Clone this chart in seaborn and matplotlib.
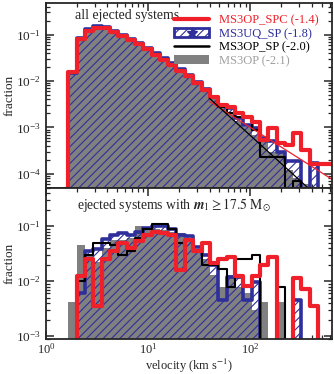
import numpy as np
import pandas as pd
import matplotlib
matplotlib.use("Agg")
import matplotlib.pyplot as plt
import seaborn as sns
from matplotlib.lines import Line2D
from matplotlib.patches import Patch
from matplotlib.legend_handler import HandlerTuple

# ---------------- data ----------------
# histogram bin edges in log10(velocity / km s^-1)
log_v_edges = [0.136, 0.218, 0.299, 0.381, 0.462, 0.544, 0.626, 0.707, 0.789, 0.870,
               0.952, 1.034, 1.115, 1.197, 1.278, 1.360, 1.442, 1.523, 1.605, 1.686,
               1.768, 1.850, 1.931, 2.013, 2.094, 2.176, 2.258, 2.339, 2.421, 2.502,
               2.584, 2.666, 2.747, 2.829]

# top panel: all ejected systems (fraction per bin)
all_ms3op_spc = [0, 0.016, 0.080, 0.122, 0.140, 0.140, 0.115, 0.092, 0.076, 0.062, 0.048,
                 0.037, 0.029, 0.022, 0.0168, 0.0125, 0.0090, 0.0064, 0.0046, 0.0030, 0.0028,
                 0.0020, 0.0017, 0.0013, 0.00054, 0.00095, 0.00045, 0.00042, 0.00075, 0.00033,
                 0.00016, 0.00016, 0.00016]
all_ms3uq_sp = [0, 0.015, 0.085, 0.130, 0.150, 0.148, 0.122, 0.098, 0.082, 0.066, 0.052,
                0.040, 0.031, 0.024, 0.0180, 0.0135, 0.0097, 0.0068, 0.0046, 0.0030, 0.0026,
                0.0016, 0.0011, 0.00095, 0.00060, 0.00050, 0.00030, 0.00019, 0.00019, 0,
                0.00017, 0, 0]
all_ms3op_sp = [0, 0.015, 0.078, 0.120, 0.138, 0.138, 0.115, 0.092, 0.076, 0.062, 0.049,
                0.038, 0.029, 0.022, 0.0165, 0.0122, 0.0088, 0.0062, 0.0043, 0.0028, 0.0020,
                0.0017, 0.0016, 0.0009, 0.00023, 0.00023, 0.00023, 0, 0.00007, 0,
                0, 0, 0]
all_ms3op = [0, 0.015, 0.078, 0.120, 0.138, 0.138, 0.115, 0.092, 0.076, 0.062, 0.049,
             0.038, 0.029, 0.022, 0.0165, 0.0122, 0.0088, 0.0062, 0.0042, 0.0027, 0.0019,
             0.0014, 0.0010, 0.0007, 0.0005, 0.00030, 0.00028, 0.00012, 0.00008, 0.00006,
             0, 0, 0]

# bottom panel: ejected systems with m1 >= 17.5 Msun
big_ms3op_spc = [0, 0, 0.0123, 0.025, 0.0035, 0.025, 0.035, 0.050, 0.040, 0.053, 0.070,
                 0.080, 0.076, 0.070, 0.016, 0.057, 0.035, 0.050, 0.021, 0.025, 0.027,
                 0.0123, 0.0081, 0.0123, 0.020, 0.028, 0, 0, 0.0115, 0.0071, 0.0035, 0, 0]
big_ms3uq_sp = [0, 0, 0.006, 0.035, 0.038, 0.058, 0.070, 0.075, 0.068, 0.080, 0.092,
                0.100, 0.100, 0.088, 0.070, 0.065, 0.042, 0.030, 0.020, 0.0045, 0.012,
                0.012, 0.0045, 0.0095, 0, 0, 0, 0, 0.0045, 0, 0, 0, 0]
big_ms3op_sp = [0, 0, 0.010, 0.030, 0.050, 0.050, 0.045, 0.030, 0.035, 0.060, 0.090,
                0.110, 0.110, 0.090, 0.050, 0.055, 0.035, 0.020, 0.020, 0.017, 0.008,
                0.025, 0.025, 0.030, 0, 0, 0.008, 0, 0, 0, 0, 0, 0]
big_ms3op = [0, 0.0042, 0.045, 0.030, 0.022, 0.040, 0.055, 0.055, 0.060, 0.100, 0.090,
             0.090, 0.085, 0.080, 0.075, 0.055, 0.035, 0.025, 0.013, 0.008, 0.013,
             0.008, 0.006, 0.003, 0.0042, 0, 0.0042, 0, 0, 0, 0, 0, 0]

# power-law fits of the high-velocity tail: slope and anchor (log v, log fraction)
fit_labels = ["MS3OP_SPC", "MS3UQ_SP", "MS3OP_SP", "MS3OP"]
fit_slopes = [-1.4, -1.8, -2.0, -2.1]
fit_anchor_logv = [1.93, None, 1.804, None]
fit_anchor_logf = [-2.90, None, -2.78, None]
fit_logv_range = [1.6, 2.9]

legend_labels = [f"{n} ({s:.1f})" for n, s in zip(fit_labels, fit_slopes)]

# ---------------- style ----------------
sns.set_style("ticks")
plt.rcParams["font.family"] = ["Liberation Serif", "DejaVu Serif"]
plt.rcParams["mathtext.fontset"] = "stix"
plt.rcParams["hatch.linewidth"] = 0.8
plt.rcParams["axes.linewidth"] = 1.3

RED = "#f0202a"
BLUE = "#2f2f9c"
GRAY = "#808080"
FS = 9

fig = plt.figure(figsize=(3.34, 3.74), dpi=100)
ax1 = fig.add_axes([0.1377, 0.498, 0.856, 0.494])
ax2 = fig.add_axes([0.1377, 0.0944, 0.856, 0.4036], sharex=ax1)

edges = np.array(log_v_edges)
centers = 10 ** ((edges[:-1] + edges[1:]) / 2)


def draw_panel(ax, gray_vals, blue_vals, black_vals, red_vals):
    sns.histplot(x=centers, weights=gray_vals, bins=log_v_edges, log_scale=True,
                 element="step", fill=True, color=GRAY, alpha=1, linewidth=0, ax=ax)
    n_before = len(ax.collections)
    sns.histplot(x=centers, weights=blue_vals, bins=log_v_edges, log_scale=True,
                 element="step", fill=True, color=BLUE, linewidth=2.6, ax=ax)
    for coll in ax.collections[n_before:]:
        coll.set_facecolor("none")
        coll.set_edgecolor(BLUE)
        coll.set_hatch("////")
        coll.set_linewidth(2.6)
    sns.histplot(x=centers, weights=black_vals, bins=log_v_edges, log_scale=True,
                 element="step", fill=False, color="black", linewidth=1.5, ax=ax)
    sns.histplot(x=centers, weights=red_vals, bins=log_v_edges, log_scale=True,
                 element="step", fill=False, color=RED, linewidth=3.0, ax=ax)


draw_panel(ax1, all_ms3op, all_ms3uq_sp, all_ms3op_sp, all_ms3op_spc)
draw_panel(ax2, big_ms3op, big_ms3uq_sp, big_ms3op_sp, big_ms3op_spc)

# power-law fit lines (top panel)
for slope, lv0, lf0, col in zip(fit_slopes, fit_anchor_logv, fit_anchor_logf,
                                [RED, None, "black", None]):
    if lv0 is None:
        continue
    lv = np.array(fit_logv_range)
    lf = lf0 + slope * (lv - lv0)
    sns.lineplot(x=10 ** lv, y=10 ** lf, color=col, linewidth=0.9, ax=ax1)

for ax, ylim in ((ax1, (5e-5, 0.48)), (ax2, (9e-4, 0.5))):
    ax.set_yscale("log", nonpositive="clip")
    ax.set_xscale("log")
    ax.set_xlim(1, 631)
    ax.set_ylim(*ylim)
    ax.set_ylabel("fraction", fontsize=FS + 0.5)
    ax.tick_params(which="both", direction="in", top=True, right=True, labelsize=FS + 0.5)
    ax.tick_params(which="major", length=6, width=1.1)
    ax.tick_params(which="minor", length=3.2, width=0.9)
    ax.yaxis.set_label_coords(-0.105, 0.5)

ax1.tick_params(labelbottom=False)
ax1.set_xlabel("")
ax2.tick_params(axis="x", which="major", pad=2.5, labelsize=FS)
ax2.set_xlabel("velocity (km s$^{-1}$)", fontsize=FS)
ax2.xaxis.set_label_coords(0.5, -0.118)

ax1.text(0.10, 0.93, "all ejected systems", transform=ax1.transAxes,
         fontsize=10, va="center", ha="left")
ax2.text(0.108, 0.885, r"ejected systems with $\mathbfit{m}_1 \geq 17.5\ \mathrm{M}_{\odot}$",
         transform=ax2.transAxes, fontsize=9.8, va="center", ha="left")

handles = [
    Line2D([], [], color=RED, linewidth=3.0),
    (Patch(facecolor="white", edgecolor=BLUE, hatch="////", linewidth=2.0),
     Line2D([], [], color=BLUE, marker="*", markersize=8, linestyle="none")),
    Line2D([], [], color="black", linewidth=1.8),
    Patch(facecolor=GRAY, edgecolor="none"),
]
leg = ax1.legend(handles, legend_labels, loc="upper right", bbox_to_anchor=(0.985, 0.985),
                 frameon=False, fontsize=FS, handlelength=2.8, labelspacing=0.12,
                 handletextpad=0.8, borderaxespad=0.3,
                 handler_map={tuple: HandlerTuple(ndivide=1, pad=0)})
for txt, col in zip(leg.get_texts(), [RED, BLUE, "black", "#a0a0a0"]):
    txt.set_color(col)

fig.savefig("out.png", dpi=100)
